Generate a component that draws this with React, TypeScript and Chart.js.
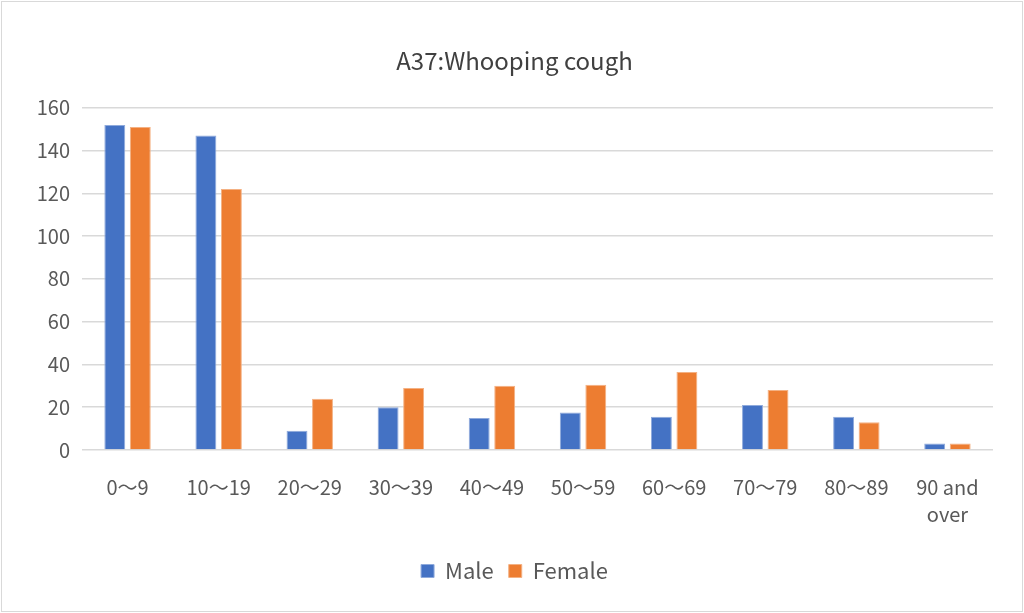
import React, { useEffect, useRef } from "react";
import { Chart, registerables } from "chart.js";

Chart.register(...registerables);

const categories: (string | string[])[] = [
  "0〜9",
  "10〜19",
  "20〜29",
  "30〜39",
  "40〜49",
  "50〜59",
  "60〜69",
  "70〜79",
  "80〜89",
  ["90 and", "over"],
];
const maleValues = [152, 147, 9, 20, 15, 17.5, 15.5, 21, 15.5, 3];
const femaleValues = [151, 122, 24, 29, 30, 30.5, 36.5, 28, 13, 3];
const yTicks = [0, 20, 40, 60, 80, 100, 120, 140, 160];
const title = "A37:Whooping cough";

const FONT = "'Noto Sans CJK JP', 'Noto Sans', sans-serif";

export default function App() {
  const ref = useRef<HTMLCanvasElement>(null);
  useEffect(() => {
    document.body.style.margin = "0";
    const chart = new Chart(ref.current!, {
      type: "bar",
      data: {
        labels: categories,
        datasets: [
          {
            label: "Male",
            data: maleValues,
            backgroundColor: "#4472C4",
            borderColor: "#8faadc",
            borderWidth: 1,
            barPercentage: 0.82,
            categoryPercentage: 0.56,
          },
          {
            label: "Female",
            data: femaleValues,
            backgroundColor: "#ED7D31",
            borderColor: "#f4b183",
            borderWidth: 1,
            barPercentage: 0.82,
            categoryPercentage: 0.56,
          },
        ],
      },
      options: {
        animation: false,
        responsive: true,
        maintainAspectRatio: false,
        layout: { padding: { left: 5, right: 0, top: 44, bottom: 19 } },
        plugins: {
          title: {
            display: true,
            text: title,
            color: "#404040",
            font: { family: FONT, size: 24, weight: "normal", lineHeight: 1.2 },
            padding: { top: 0, bottom: 33 },
          },
          legend: {
            position: "bottom",
            labels: {
              color: "#595959",
              font: { family: FONT, size: 22 },
              boxWidth: 13,
              boxHeight: 13,
              padding: 15,
            },
          },
          tooltip: { enabled: false },
        },
        scales: {
          x: {
            grid: { display: false },
            border: { display: false },
            afterFit: (axis: any) => {
              axis.height = axis.height + 1;
            },
            ticks: {
              color: "#595959",
              font: { family: FONT, size: 20, lineHeight: 1.35 },
              maxRotation: 0,
              autoSkip: false,
              padding: 16,
            },
          },
          y: {
            min: 0,
            max: 160,
            afterBuildTicks: (axis: any) => {
              axis.ticks = yTicks.map((v) => ({ value: v }));
            },
            afterFit: (axis: any) => {
              axis.width = 75;
            },
            grid: { color: "#d9d9d9", lineWidth: 1.5, drawTicks: false },
            border: { display: false },
            ticks: {
              color: "#595959",
              font: { family: FONT, size: 20 },
              padding: 12,
            },
          },
          yRight: {
            position: "right",
            display: true,
            grid: { display: false, drawTicks: false },
            border: { display: false },
            ticks: { display: false },
            afterFit: (axis: any) => {
              axis.width = 29;
            },
          },
        },
      },
    });
    return () => chart.destroy();
  }, []);
  return (
    <div
      style={{
        position: "absolute",
        left: 0,
        top: 0,
        width: 1020,
        height: 609,
        border: "1px solid #d9d9d9",
        margin: 1,
        background: "#fff",
      }}
    >
      <canvas ref={ref} />
    </div>
  );
}
